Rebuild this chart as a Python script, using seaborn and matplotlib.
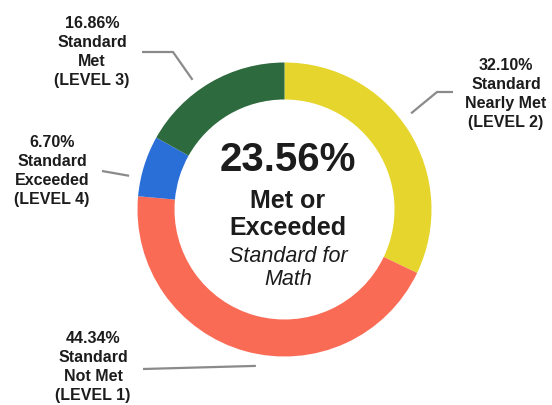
import matplotlib
matplotlib.use("Agg")
import matplotlib.pyplot as plt
import seaborn as sns
import numpy as np

# ---- data ----
levels = ["LEVEL 2", "LEVEL 1", "LEVEL 4", "LEVEL 3"]
descriptions = ["Standard\nNearly Met", "Standard\nNot Met", "Standard\nExceeded", "Standard\nMet"]
percents = [32.10, 44.34, 6.70, 16.86]
colors = ["#e6d52c", "#fa6b55", "#2a6ed8", "#2d6a3e"]
center_value = "23.56%"
center_lines = ["Met or", "Exceeded", "Standard for", "Math"]

sns.set_theme(style="white")
plt.rcParams["font.family"] = ["Liberation Sans", "DejaVu Sans"]

W, H = 552, 406
fig = plt.figure(figsize=(W / 100, H / 100), dpi=100)
ax = fig.add_axes([0, 0, 1, 1])

def Y(y):  # image-space y -> data y
    return H - y

cx, cy = 284.5, Y(210.5)
R = 147
wedges, _ = ax.pie(percents, colors=sns.color_palette(colors), startangle=90,
                   counterclock=False, center=(cx, cy), radius=R,
                   wedgeprops=dict(width=37, edgecolor="none"))
ax.set_xlim(0, W)
ax.set_ylim(0, H)
ax.set_aspect("equal")
ax.axis("off")

txt_color = "#1c1c1c"
# label layout (image coords): label center, leader path after ring point
label_pos = [(506, 94), (93, 367), (52, 171), (92, 52)]
leader_paths = [
    [(437, 93), (453, 93)],
    [(143, 370)],
    [(102, 172)],
    [(173, 53), (142, 53)],
]

for w, p, d, lvl, (lx, ly), path in zip(wedges, percents, descriptions, levels, label_pos, leader_paths):
    mid = np.deg2rad((w.theta1 + w.theta2) / 2 + 5)
    sx, sy = cx + 159 * np.cos(mid), cy + 159 * np.sin(mid)
    xs = [sx] + [q[0] for q in path]
    ys = [sy] + [Y(q[1]) for q in path]
    ax.plot(xs, ys, color="#8a8a8a", lw=1.6, solid_capstyle="butt")
    ax.text(lx, Y(ly), f"{p:.2f}%\n{d}\n({lvl})", ha="center", va="center",
            fontsize=11.5, fontweight="bold", color=txt_color, linespacing=1.33)

tx = 288
ax.text(tx, Y(160), center_value, ha="center", va="center", fontsize=29,
        fontweight="bold", color=txt_color)
ax.text(tx, Y(201), center_lines[0], ha="center", va="center", fontsize=18,
        fontweight="bold", color=txt_color)
ax.text(tx, Y(228), center_lines[1], ha="center", va="center", fontsize=18,
        fontweight="bold", color=txt_color)
ax.text(tx, Y(257), center_lines[2], ha="center", va="center", fontsize=15.5,
        style="italic", color=txt_color)
ax.text(tx, Y(280), center_lines[3], ha="center", va="center", fontsize=15.5,
        style="italic", color=txt_color)

fig.savefig("out.png", dpi=100)
